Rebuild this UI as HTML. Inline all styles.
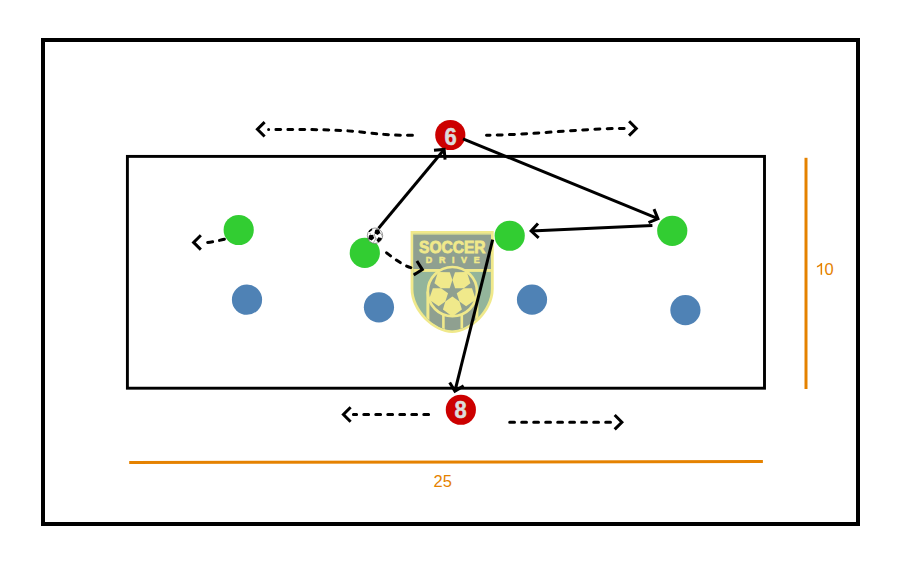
<!DOCTYPE html>
<html><head><meta charset="utf-8"><title>Soccer drill</title>
<style>
html,body{margin:0;padding:0;background:#fff;}
body{width:903px;height:564px;overflow:hidden;font-family:"Liberation Sans",sans-serif;}
svg{display:block;}
</style></head><body>
<svg width="903" height="564" viewBox="0 0 903 564">
<rect width="903" height="564" fill="#fff"/>
<rect x="43" y="40" width="815" height="484" fill="none" stroke="#000" stroke-width="4"/>
<rect x="127.4" y="156.4" width="637.1" height="231.8" fill="none" stroke="#000" stroke-width="2.9"/>
<line x1="806" y1="157.8" x2="806" y2="389" stroke="#e58200" stroke-width="3"/>
<line x1="129.2" y1="462.5" x2="762.9" y2="461.5" stroke="#e58200" stroke-width="3"/>
<g id="logo">
<path d="M410.60,231.00 H493.70 V289.00 C493.70,311.50 470.65,333.00 452.15,333.00 C433.65,333.00 410.60,311.50 410.60,289.00 Z" fill="#f0e98b"/>
<clipPath id="sh"><path d="M413.40,233.80 H490.90 V289.00 C490.90,309.98 469.40,330.20 452.15,330.20 C434.90,330.20 413.40,309.98 413.40,289.00 Z"/></clipPath>
<g clip-path="url(#sh)">
<rect x="405" y="225" width="95" height="115" fill="#93b59b"/>
<rect x="405" y="234.5" width="95" height="34.5" fill="#8fa090"/>
<rect x="405" y="225" width="95" height="9.5" fill="#f0e98b"/>
<rect x="427.90" y="291.60" width="49.00" height="60" fill="#8fa090"/>
<rect x="405" y="269.0" width="95" height="2.9" fill="#f0e98b"/>
<rect x="426.40" y="291.60" width="3" height="60" fill="#f0e98b"/>
<rect x="475.40" y="291.60" width="3" height="60" fill="#f0e98b"/>
<rect x="442.10" y="311.60" width="2.6" height="40" fill="#f0e98b"/>
<rect x="460.50" y="311.60" width="2.6" height="40" fill="#f0e98b"/>
</g>
<circle cx="452.40" cy="291.60" r="25" fill="#8fa090"/>
<clipPath id="bl"><circle cx="452.40" cy="291.60" r="24"/></clipPath>
<g clip-path="url(#bl)" fill="#f0e98b">
<polygon points="449.71,288.19 452.40,279.91 449.80,272.16 437.94,272.00 434.43,283.33 440.99,288.20"/>
<polygon points="455.09,288.19 463.81,288.20 470.37,283.33 466.86,272.00 455.00,272.16 452.40,279.91"/>
<polygon points="456.76,293.32 459.45,301.60 466.11,306.34 475.80,299.50 471.98,288.27 463.80,288.19"/>
<polygon points="452.40,296.48 445.35,301.60 442.90,309.40 452.40,316.50 461.90,309.40 459.45,301.60"/>
<polygon points="448.04,293.32 441.00,288.19 432.82,288.27 429.00,299.50 438.69,306.34 445.35,301.60"/>
</g>
<circle cx="452.40" cy="291.60" r="24.6" fill="none" stroke="#f0e98b" stroke-width="2.7"/>
<text x="452.3" y="252.5" font-family="Liberation Sans, sans-serif" font-weight="bold" font-size="16.5" fill="#f0e98b" text-anchor="middle" textLength="66.5" lengthAdjust="spacingAndGlyphs" stroke="#f0e98b" stroke-width="0.8">SOCCER</text>
<text x="452.7" y="263.1" font-family="Liberation Sans, sans-serif" font-weight="bold" font-size="8.9" fill="#f0e98b" text-anchor="middle" textLength="53.8" lengthAdjust="spacing" stroke="#f0e98b" stroke-width="0.5">DRIVE</text>
</g>
<circle cx="238.70" cy="230.00" r="15.1" fill="#32cd32"/>
<circle cx="364.80" cy="252.90" r="15.1" fill="#32cd32"/>
<circle cx="509.70" cy="235.75" r="15.1" fill="#32cd32"/>
<circle cx="672.25" cy="230.80" r="15.1" fill="#32cd32"/>
<circle cx="247.00" cy="299.70" r="15.1" fill="#4f82b5"/>
<circle cx="378.95" cy="307.30" r="15.1" fill="#4f82b5"/>
<circle cx="532.00" cy="299.60" r="15.1" fill="#4f82b5"/>
<circle cx="685.40" cy="310.10" r="15.1" fill="#4f82b5"/>
<circle cx="450.30" cy="135.00" r="15.1" fill="#cc0000"/>
<circle cx="460.85" cy="409.75" r="15.1" fill="#cc0000"/>
<line x1="378.60" y1="228.20" x2="444.14" y2="149.43" stroke="#000" stroke-width="3" stroke-linecap="butt"/>
<polyline points="433.99,150.36 444.14,149.43 445.07,159.59" fill="none" stroke="#000" stroke-width="3" stroke-linejoin="miter" stroke-miterlimit="10" stroke-linecap="butt"/>
<line x1="463.00" y1="138.80" x2="657.94" y2="218.60" stroke="#000" stroke-width="3" stroke-linecap="butt"/>
<polyline points="653.99,209.19 657.94,218.60 648.53,222.54" fill="none" stroke="#000" stroke-width="3" stroke-linejoin="miter" stroke-miterlimit="10" stroke-linecap="butt"/>
<line x1="652.40" y1="225.40" x2="531.12" y2="231.00" stroke="#000" stroke-width="3" stroke-linecap="butt"/>
<polyline points="538.66,237.87 531.12,231.00 537.99,223.46" fill="none" stroke="#000" stroke-width="3" stroke-linejoin="miter" stroke-miterlimit="10" stroke-linecap="butt"/>
<line x1="492.70" y1="239.60" x2="454.91" y2="391.14" stroke="#000" stroke-width="3" stroke-linecap="butt"/>
<polyline points="463.66,385.89 454.91,391.14 449.66,382.40" fill="none" stroke="#000" stroke-width="3" stroke-linejoin="miter" stroke-miterlimit="10" stroke-linecap="butt"/>
<path d="M412.4,135.3 C394,135.6 379,134.2 361,132 C339,129.6 309,129.4 268.6,129.4" stroke="#000" stroke-width="3" fill="none" stroke-linecap="round" stroke-dasharray="4.8 7.2"/>
<polyline points="264.63,136.51 257.42,129.30 264.63,122.09" fill="none" stroke="#000" stroke-width="3" stroke-linejoin="miter" stroke-miterlimit="10" stroke-linecap="butt"/>
<path d="M486.5,135.2 C531,135 581,128.5 625.5,128.4" stroke="#000" stroke-width="3" fill="none" stroke-linecap="round" stroke-dasharray="4.9 7.3" stroke-dashoffset="1.3"/>
<polyline points="629.10,121.24 636.28,128.49 629.03,135.66" fill="none" stroke="#000" stroke-width="3" stroke-linejoin="miter" stroke-miterlimit="10" stroke-linecap="butt"/>
<path d="M428.6,414.5 L353.4,414.5" stroke="#000" stroke-width="3" fill="none" stroke-linecap="round" stroke-dasharray="4.8 7.2"/>
<polyline points="350.63,421.71 343.42,414.50 350.63,407.29" fill="none" stroke="#000" stroke-width="3" stroke-linejoin="miter" stroke-miterlimit="10" stroke-linecap="butt"/>
<path d="M509.7,422.2 L612.4,422.2" stroke="#000" stroke-width="3" fill="none" stroke-linecap="round" stroke-dasharray="4.8 7.2"/>
<polyline points="614.67,414.99 621.88,422.20 614.67,429.41" fill="none" stroke="#000" stroke-width="3" stroke-linejoin="miter" stroke-miterlimit="10" stroke-linecap="butt"/>
<path d="M224.4,239.2 Q212,242.3 203.5,242.8" stroke="#000" stroke-width="3" fill="none" stroke-linecap="round" stroke-dasharray="4.8 7.2"/>
<polyline points="200.83,249.61 193.62,242.40 200.83,235.19" fill="none" stroke="#000" stroke-width="3" stroke-linejoin="miter" stroke-miterlimit="10" stroke-linecap="butt"/>
<path d="M386.6,252.8 Q402,265.1 410.8,267.6" stroke="#000" stroke-width="3" fill="none" stroke-linecap="round" stroke-dasharray="4.8 7.2"/>
<polyline points="416.88,261.01 422.33,269.63 413.71,275.08" fill="none" stroke="#000" stroke-width="3" stroke-linejoin="miter" stroke-miterlimit="10" stroke-linecap="butt"/>
<g id="ball">
<circle cx="375" cy="235.7" r="7.7" fill="#fff" stroke="#555" stroke-width="0.6"/>
<clipPath id="sb"><circle cx="375" cy="235.7" r="7.5"/></clipPath>
<g clip-path="url(#sb)">
<g stroke="#666" stroke-width="0.6" fill="none"><path d="M377.3,232 L374.3,234.6 L371.2,237.5 M374.3,234.6 L375.8,238.8 L379.2,240 M375.8,238.8 L373.5,242.5 M377.3,232 L381.5,234 L382.5,237 M377.3,232 L376.5,228 M371.2,237.5 L368,239.5 M371.2,237.5 L370,233"/></g>
<polygon points="378.85,229.32 380.33,232.64 377.62,235.08 374.47,233.26 375.23,229.70" fill="#000"/>
<polygon points="374.30,238.05 371.64,240.62 368.37,238.88 369.01,235.23 372.68,234.72" fill="#000"/>
<polygon points="382.10,241.60 378.88,243.03 376.52,240.41 378.28,237.36 381.73,238.09" fill="#000"/>
</g>
<path d="M369.0,231.9 Q370.2,230.2 372.1,229.3" stroke="#000" stroke-width="1.5" fill="none"/>
</g>
<text transform="translate(450.7,144.9) scale(1,1.1)" x="0" y="0" font-family="Liberation Sans, sans-serif" font-weight="bold" font-size="22" fill="#dcdcdc" stroke="#dcdcdc" stroke-width="0.5" text-anchor="middle">6</text>
<text transform="translate(460.6,418.0) scale(1,1.1)" x="0" y="0" font-family="Liberation Sans, sans-serif" font-weight="bold" font-size="22" fill="#dcdcdc" stroke="#dcdcdc" stroke-width="0.5" text-anchor="middle">8</text>
<path d="M820.6,274.8 V265.4 C819.6,266.3 818.2,267.0 816.9,267.4 V266.0 C818.6,265.3 820.2,264.2 820.9,263 H822.1 V274.8 Z" fill="#e58200"/>
<text x="824.4" y="274.8" font-family="Liberation Sans, sans-serif" font-size="16.5" fill="#e58200">0</text>
<text x="442.8" y="486.9" font-family="Liberation Sans, sans-serif" font-size="16.5" fill="#e58200" text-anchor="middle">25</text>
</svg>
</body></html>
